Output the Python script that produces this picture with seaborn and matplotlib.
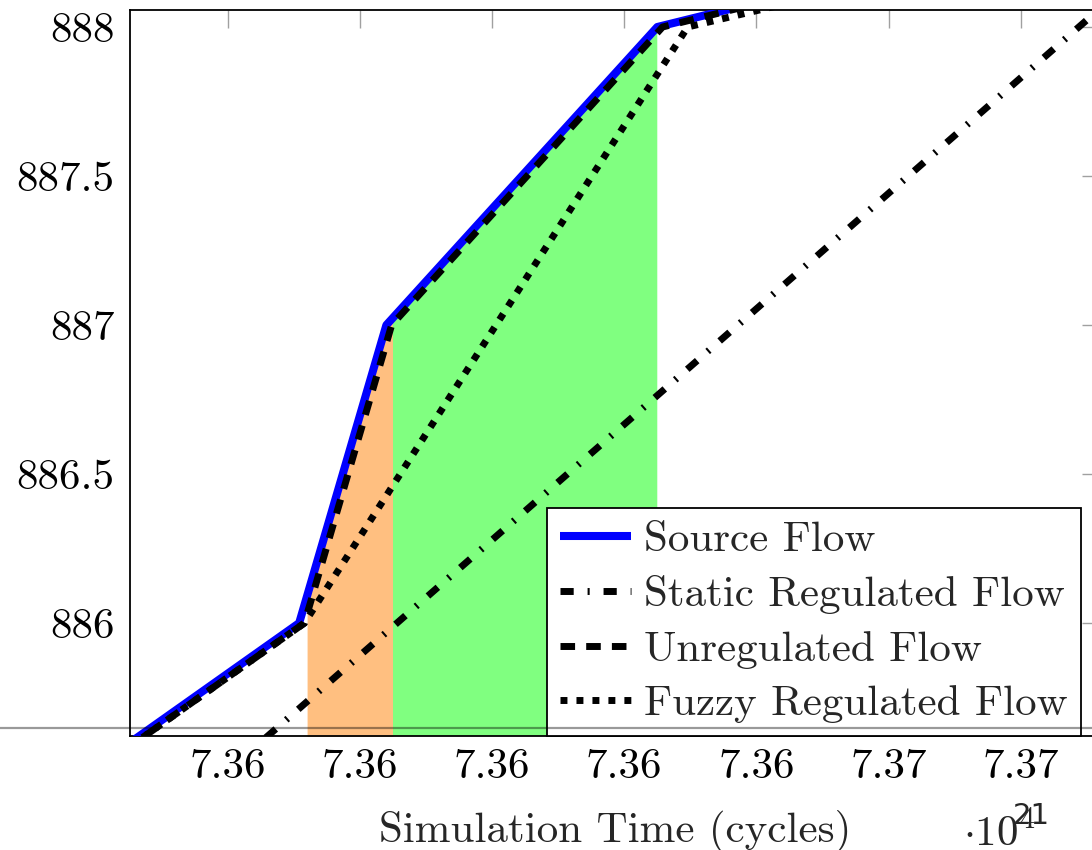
import numpy as np
import seaborn as sns
import matplotlib.pyplot as plt
from matplotlib.lines import Line2D

# 1. Data
source_x = [73573.5, 73605.4, 73612.0, 73632.5, 73724.0]
source_y = [885, 886, 887, 888, 889]
static_x = [73587.0, 73612.8, 73638.6, 73664.4, 73690.2]
static_y = [885, 886, 887, 888, 889]
unreg_x = [73573.9, 73605.8, 73612.4, 73632.9, 73724.4]
unreg_y = [885, 886, 887, 888, 889]
fuzzy_x = [73573.9, 73605.8, 73634.8, 73730.0]
fuzzy_y = [885, 886, 888, 889]

orange_span = (73606.0, 73612.5)
green_span = (73612.5, 73632.5)

xticks = [73600, 73610, 73620, 73630, 73640, 73650, 73660]
xtick_labels = ["7.36", "7.36", "7.36", "7.36", "7.36", "7.37", "7.37"]
yticks = [886, 886.5, 887, 887.5, 888]
ytick_labels = ["886", "886.5", "887", "887.5", "888"]

# 2. Style
sns.set_style("white")
plt.rcParams["font.family"] = ["cmr10", "DejaVu Serif"]
plt.rcParams["mathtext.fontset"] = "cm"
plt.rcParams["axes.unicode_minus"] = False

FS = 31

fig = plt.figure(figsize=(10.92, 8.5), dpi=100)
ax = fig.add_axes([130 / 1092, 1 - 736 / 850, 970 / 1092, 726 / 850])

# 3. Filled regions under the source flow
for (x0, x1), col in [(orange_span, "#FFBF80"), (green_span, "#80FF80")]:
    xx = np.linspace(x0, x1, 50)
    ax.fill_between(xx, 885.0, np.interp(xx, source_x, source_y),
                    color=col, lw=0, zorder=1)

# 4. Lines
sns.lineplot(x=source_x, y=source_y, ax=ax, sort=False, color="blue",
             lw=5.8, label="Source Flow", zorder=3)
sns.lineplot(x=static_x, y=static_y, ax=ax, sort=False, color="black",
             lw=5.0, label="Static Regulated Flow", zorder=4)
sns.lineplot(x=unreg_x, y=unreg_y, ax=ax, sort=False, color="black",
             lw=5.0, label="Unregulated Flow", zorder=4)
sns.lineplot(x=fuzzy_x, y=fuzzy_y, ax=ax, sort=False, color="black",
             lw=5.0, label="Fuzzy Regulated Flow", zorder=4)

lines = ax.get_lines()
lines[1].set_linestyle((0, (1.9, 2.0, 0.3, 2.0)))
lines[2].set_linestyle((0, (2.1, 1.6)))
lines[3].set_linestyle((0, (1.0, 1.3)))
for ln in lines:
    ln.set_dash_capstyle("butt")
    ln.set_solid_capstyle("butt")

# 5. Axes
ax.set_xlim(73592.6, 73666.0)
ax.set_ylim(885.621, 888.057)
ax.set_xticks(xticks)
ax.set_xticklabels(xtick_labels)
ax.set_yticks(yticks)
ax.set_yticklabels(ytick_labels)
ax.tick_params(axis="both", which="major", direction="in", length=13,
               width=1.0, color="#a0a0a0", labelsize=FS, top=True,
               right=True, labelcolor="black")
ax.tick_params(axis="x", pad=9)
ax.tick_params(axis="y", pad=11)
for sp in ax.spines.values():
    sp.set_color("black")
    sp.set_linewidth(1.3)
ax.set_xlabel("Simulation Time (cycles)", fontsize=FS, labelpad=17)
ax.set_ylabel("")

leg = ax.legend(loc="lower right", bbox_to_anchor=(951 / 970, 0.0),
                fontsize=FS, frameon=True, fancybox=False, framealpha=1,
                edgecolor="black", handlelength=1.65, handletextpad=0.3,
                labelspacing=0.38, borderpad=0.3, borderaxespad=0)
leg.get_frame().set_linewidth(1.3)

# 6. Multiplier and stray marks
fig.text(963 / 1092, 1 - 846 / 850, r"$\cdot 10^{4}$", fontsize=FS)
fig.text(1013 / 1092, 1 - 824 / 850, "21", fontsize=21,
         family="DejaVu Sans")
fig.add_artist(Line2D([0, 1], [1 - 728 / 850] * 2, color="black",
                      alpha=0.4, lw=1.6, zorder=10))

plt.savefig("out.png", dpi=100)
